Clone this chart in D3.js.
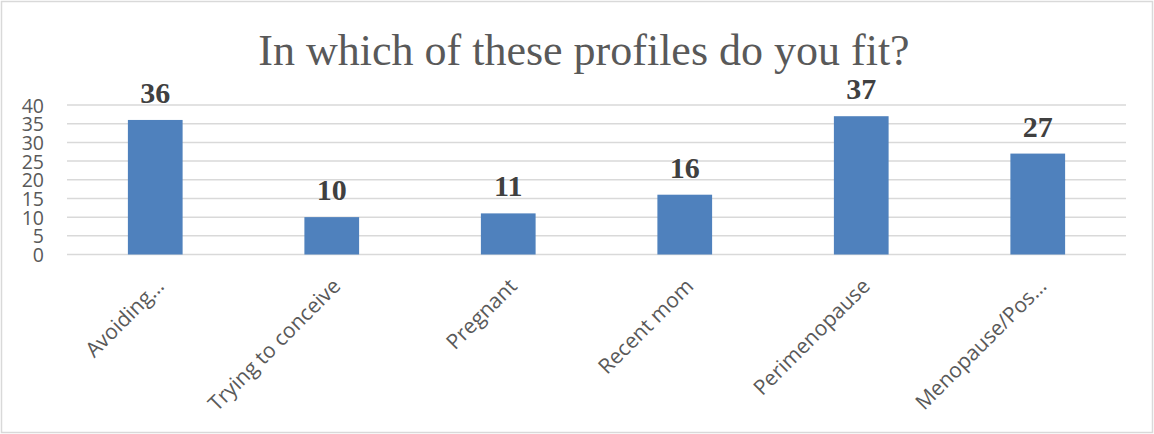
<!DOCTYPE html>
<html>
<head>
<meta charset="utf-8">
<script src="https://cdn.jsdelivr.net/npm/d3@7"></script>
<style>
  html, body { margin: 0; padding: 0; background: #fff; }
  svg { display: block; }
</style>
</head>
<body>
<svg id="chart" width="1154" height="434"></svg>
<script>
// Survey results: number of respondents per profile
const categories = ["Avoiding…", "Trying to conceive", "Pregnant", "Recent mom", "Perimenopause", "Menopause/Pos…"];
const counts = [36, 10, 11, 16, 37, 27];
const yTicks = [0, 5, 10, 15, 20, 25, 30, 35, 40];
const titleText = "In which of these profiles do you fit?";

const W = 1154, H = 434;
const plot = { left: 67, right: 1126, top: 105, bottom: 254.5 };

const svg = d3.select("#chart");

// outer chart frame
svg.append("rect")
  .attr("x", 1.5).attr("y", 1.5)
  .attr("width", W - 3).attr("height", H - 3)
  .attr("fill", "#fff").attr("stroke", "#d9d9d9").attr("stroke-width", 1.5);

const x = d3.scaleBand()
  .domain(categories)
  .range([plot.left, plot.right])
  .paddingInner(0.69)
  .paddingOuter(0.345);

const y = d3.scaleLinear()
  .domain([0, 40])
  .range([plot.bottom, plot.top]);

// horizontal gridlines
svg.append("g")
  .selectAll("line")
  .data(yTicks)
  .join("line")
  .attr("x1", plot.left).attr("x2", plot.right)
  .attr("y1", d => y(d)).attr("y2", d => y(d))
  .attr("stroke", "#d9d9d9").attr("stroke-width", 1.5);

// y axis labels
const yAxis = d3.axisLeft(y).tickValues(yTicks).tickSize(0).tickPadding(0);
const gy = svg.append("g")
  .attr("transform", `translate(${plot.left - 23},0)`)
  .call(yAxis);
gy.select(".domain").remove();
gy.selectAll("text")
  .attr("font-family", "'Open Sans', sans-serif")
  .attr("font-size", 19.5)
  .attr("fill", "#595959")
  .attr("dy", "0.36em");

// bars
svg.append("g")
  .selectAll("rect")
  .data(counts)
  .join("rect")
  .attr("x", (d, i) => x(categories[i]))
  .attr("width", x.bandwidth())
  .attr("y", d => y(d))
  .attr("height", d => y(0) - y(d))
  .attr("fill", "#4f81bd");

// value labels
svg.append("g")
  .selectAll("text")
  .data(counts)
  .join("text")
  .attr("x", (d, i) => x(categories[i]) + x.bandwidth() / 2)
  .attr("y", d => y(d) - 17)
  .attr("text-anchor", "middle")
  .attr("font-family", "'Liberation Serif', 'Times New Roman', serif")
  .attr("font-weight", "bold")
  .attr("font-size", 30)
  .attr("fill", "#404040")
  .text(d => d);

// category axis, labels rotated 45°
const xAxis = d3.axisBottom(x).tickSize(0).tickPadding(0);
const gx = svg.append("g")
  .attr("transform", `translate(0,${plot.bottom})`)
  .call(xAxis);
gx.select(".domain").remove();
gx.selectAll("text")
  .attr("font-family", "'Open Sans', sans-serif")
  .attr("font-size", 21)
  .attr("fill", "#595959")
  .attr("text-anchor", "end")
  .attr("dy", 0)
  .attr("y", 0)
  .attr("transform", "translate(10,33) rotate(-45)");

// title
svg.append("text")
  .attr("x", 584).attr("y", 65)
  .attr("text-anchor", "middle")
  .attr("font-family", "'Liberation Serif', 'Times New Roman', serif")
  .attr("font-size", 44)
  .attr("fill", "#595959")
  .text(titleText);
</script>
</body>
</html>
